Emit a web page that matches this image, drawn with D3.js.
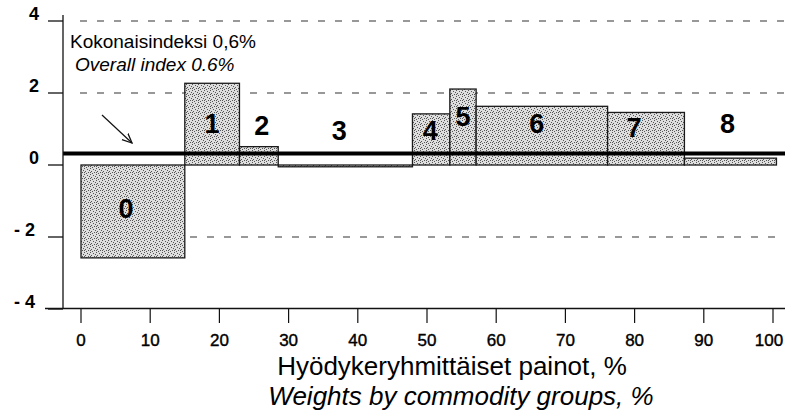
<!DOCTYPE html>
<html>
<head>
<meta charset="utf-8">
<script src="https://cdn.jsdelivr.net/npm/d3@7"></script>
<style>
  html, body { margin: 0; padding: 0; background: #fff; }
  svg { display: block; font-family: "Liberation Sans", Arial, Helvetica, sans-serif; }
</style>
</head>
<body>
<svg id="chart" width="785" height="414"></svg>
<script>
// ---- data ----
const groups = ["0", "1", "2", "3", "4", "5", "6", "7", "8"];
const weights = [15.0, 7.9, 5.6, 19.4, 5.4, 3.8, 19.0, 11.1, 13.3];      // % weight of each commodity group
const changes = [-2.58, 2.27, 0.51, -0.05, 1.42, 2.11, 1.63, 1.46, 0.19]; // % change
const overallLine = 0.32;          // where the overall-index line is drawn in the picture
const yTicks = [4, 2, 0, -2, -4];
const yTickLabels = ["4", "2", "0", "- 2", "- 4"];
const xTicks = [0, 10, 20, 30, 40, 50, 60, 70, 80, 90, 100];
const gridValues = [4, 2, -2];
const titleFi = "Hyödykeryhmittäiset painot, %";
const titleEn = "Weights by commodity groups, %";
const noteFi = "Kokonaisindeksi 0,6%";
const noteEn = "Overall index 0.6%";

// ---- layout (not data) ----
const labelLevel = [-1.47, 0.89, 0.83, 0.69, 0.69, 1.08, 0.89, 0.78, 0.89]; // label baselines in y units
const labelDx = [-7, 0, 3, -6, -1, 0, -5, -12, -3];

const svg = d3.select("#chart");
const x = d3.scaleLinear().domain([0, 100]).range([81, 773]);
const y = d3.scaleLinear().domain([-4, 4]).range([309, 21]);
const axisX = 63;

// stipple pattern
const defs = svg.append("defs");
const pat = defs.append("pattern").attr("id", "stip").attr("width", 6).attr("height", 6)
  .attr("patternUnits", "userSpaceOnUse");
pat.append("rect").attr("width", 6).attr("height", 6).attr("fill", "#dedede");
[[0,0],[3,1],[1,3],[4,4],[2,5],[5,2],[0,4]].forEach(([a,b]) =>
  pat.append("rect").attr("x", a).attr("y", b).attr("width", 1).attr("height", 1).attr("fill", "#555"));

defs.append("marker").attr("id", "arr").attr("viewBox", "0 0 10 10").attr("refX", 9).attr("refY", 5)
  .attr("markerWidth", 9).attr("markerHeight", 9).attr("orient", "auto")
  .append("path").attr("d", "M0,1 L9,5 L0,9").attr("fill", "none").attr("stroke", "#111").attr("stroke-width", 1.2);

// grid
svg.append("g").selectAll("line").data(gridValues).join("line")
  .attr("x1", d => d === -2 ? 190 : 80).attr("x2", 785)
  .attr("y1", d => y(d)).attr("y2", d => y(d))
  .attr("stroke", "#333").attr("stroke-width", 1.2).attr("stroke-dasharray", "7,10");

// bars
let cum = 0;
const bars = groups.map((g, i) => { const b = { g, x0: cum, x1: cum + weights[i], v: changes[i], i }; cum += weights[i]; return b; });

svg.append("g").selectAll("rect").data(bars).join("rect")
  .attr("x", d => x(d.x0)).attr("width", d => x(d.x1) - x(d.x0))
  .attr("y", d => y(Math.max(0, d.v))).attr("height", d => Math.max(1.5, Math.abs(y(d.v) - y(0))))
  .attr("fill", "url(#stip)").attr("stroke", "#1a1a1a").attr("stroke-width", 1.3);

// overall index line
svg.append("line").attr("x1", axisX).attr("x2", 785).attr("y1", y(overallLine)).attr("y2", y(overallLine))
  .attr("stroke", "#000").attr("stroke-width", 4);

// bar labels
svg.append("g").selectAll("text").data(bars).join("text")
  .attr("x", d => (x(d.x0) + x(d.x1)) / 2 + labelDx[d.i])
  .attr("y", d => y(labelLevel[d.i]))
  .attr("text-anchor", "middle").attr("font-size", 27).attr("font-weight", "bold").attr("fill", "#000")
  .text(d => d.g);

// y axis
svg.append("line").attr("x1", axisX).attr("x2", axisX).attr("y1", 15).attr("y2", y(-4)).attr("stroke", "#111").attr("stroke-width", 1.3);
const ya = svg.append("g");
ya.selectAll("line").data(yTicks).join("line")
  .attr("x1", 48).attr("x2", axisX).attr("y1", d => y(d)).attr("y2", d => y(d)).attr("stroke", "#111").attr("stroke-width", 1.3);
ya.selectAll("text").data(yTicks).join("text")
  .attr("x", d => d < 0 ? 35 : 39).attr("y", d => y(d) - 1).attr("text-anchor", "end")
  .attr("font-size", 18).attr("font-weight", "bold")
  .text((d, i) => yTickLabels[i]);

// x axis
svg.append("line").attr("x1", 45).attr("x2", 785).attr("y1", 308.5).attr("y2", 308.5).attr("stroke", "#111").attr("stroke-width", 1.3);
const xa = svg.append("g");
xa.selectAll("line").data(xTicks).join("line")
  .attr("x1", d => x(d)).attr("x2", d => x(d)).attr("y1", 309).attr("y2", 323).attr("stroke", "#111").attr("stroke-width", 1.2);
xa.selectAll("text").data(xTicks).join("text")
  .attr("x", d => Math.min(x(d), 769)).attr("y", 346).attr("text-anchor", "middle").attr("font-size", 17)
  .attr("stroke", "#000").attr("stroke-width", 0.4)
  .text(d => d);

// titles
svg.append("text").attr("x", 452).attr("y", 375).attr("text-anchor", "middle").attr("font-size", 26).text(titleFi);
svg.append("text").attr("x", 461).attr("y", 405).attr("text-anchor", "middle").attr("font-size", 26).attr("font-style", "italic").text(titleEn);

// notes
svg.append("text").attr("x", 70).attr("y", 48).attr("font-size", 19).text(noteFi);
svg.append("text").attr("x", 75).attr("y", 71).attr("font-size", 19).attr("font-style", "italic").text(noteEn);

// arrow
svg.append("line").attr("x1", 102).attr("y1", 115).attr("x2", 132).attr("y2", 143)
  .attr("stroke", "#111").attr("stroke-width", 1.2).attr("marker-end", "url(#arr)");
</script>
</body>
</html>
